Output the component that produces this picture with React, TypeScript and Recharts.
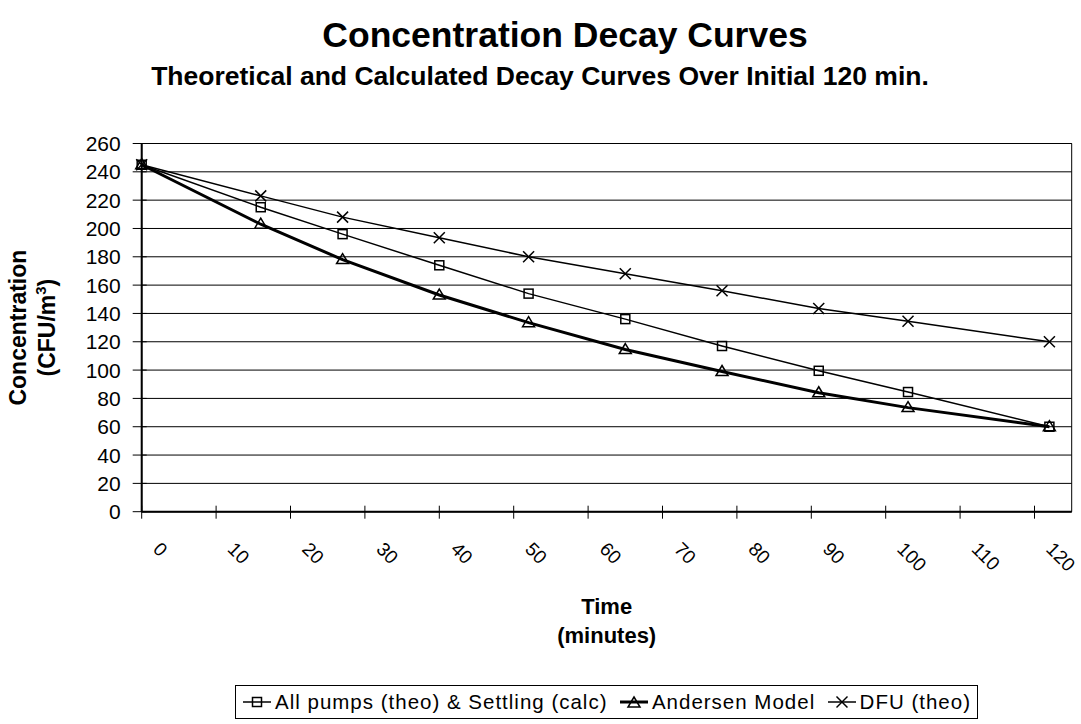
import React from "react";
import {
  LineChart,
  Line,
  XAxis,
  YAxis,
  CartesianGrid,
  Legend,
  Label,
  ReferenceArea,
} from "recharts";

// sample times (minutes) and concentrations
const times = [0, 16, 27, 40, 52, 65, 78, 91, 103, 122];
const allPumps = [245, 215, 196, 174, 154, 136, 117, 99.5, 84.5, 60];
const andersen = [245, 203, 178, 153, 133.5, 114.5, 99, 84, 73.5, 60];
const dfu = [245, 223, 208, 193.5, 180, 168, 156, 143.5, 134.5, 120];

const xTicks = [0, 10, 20, 30, 40, 50, 60, 70, 80, 90, 100, 110, 120];
const yTicks = [0, 20, 40, 60, 80, 100, 120, 140, 160, 180, 200, 220, 240, 260];
const yMinorTicks = Array.from({ length: 66 }, (_, i) => i * 4);

const seriesNames = [
  "All pumps (theo) & Settling (calc)",
  "Andersen Model",
  "DFU (theo)",
];

const data = times.map((t, i) => ({
  time: t,
  pumps: allPumps[i],
  andersen: andersen[i],
  dfu: dfu[i],
}));

const FONT = "'Liberation Sans', Arial, sans-serif";

function SquareMark({ cx, cy }: { cx: number; cy: number }) {
  return (
    <rect
      x={cx - 4.5}
      y={cy - 4.5}
      width={9}
      height={9}
      fill="none"
      stroke="#000"
      strokeWidth={1.5}
    />
  );
}

function TriangleMark({ cx, cy }: { cx: number; cy: number }) {
  return (
    <polygon
      points={`${cx},${cy - 6} ${cx + 6},${cy + 4} ${cx - 6},${cy + 4}`}
      fill="none"
      stroke="#000"
      strokeWidth={1.5}
    />
  );
}

function CrossMark({ cx, cy }: { cx: number; cy: number }) {
  return (
    <g stroke="#000" strokeWidth={1.5}>
      <line x1={cx - 5.5} y1={cy - 5.5} x2={cx + 5.5} y2={cy + 5.5} />
      <line x1={cx - 5.5} y1={cy + 5.5} x2={cx + 5.5} y2={cy - 5.5} />
    </g>
  );
}

const marks = [SquareMark, TriangleMark, CrossMark];
const widths = [1.5, 3, 1.5];

function dotOf(idx: number) {
  const Mark = marks[idx];
  return (props: any) => {
    if (props.cx == null || props.cy == null) return <g key={props.index} />;
    return (
      <g key={props.index}>
        <Mark cx={props.cx} cy={props.cy} />
      </g>
    );
  };
}

function XTick(props: any) {
  const { x, y, payload } = props;
  const px = x + 15;
  const py = y + 34;
  return (
    <g>
      <line x1={x} y1={y - 6} x2={x} y2={y + 7} stroke="#000" strokeWidth={1} />
      <text
        x={px}
        y={py}
        transform={`rotate(45 ${px} ${py})`}
        textAnchor="start"
        dominantBaseline="central"
        fontFamily={FONT}
        fontSize={19}
        fill="#000"
      >
        {payload.value}
      </text>
    </g>
  );
}

function YTick(props: any) {
  const { x, y, payload } = props;
  return (
    <g>
      <line x1={x - 9} y1={y} x2={x + 5} y2={y} stroke="#000" strokeWidth={1} />
      <text
        x={x - 21}
        y={y}
        dy="0.36em"
        textAnchor="end"
        fontFamily={FONT}
        fontSize={21}
        fill="#000"
      >
        {payload.value}
      </text>
    </g>
  );
}

// small inside ticks between the labelled ones
function MinorTick(props: any) {
  const { x, y } = props;
  return <line x1={x} y1={y} x2={x + 6} y2={y} stroke="#000" strokeWidth={1} />;
}

function XTitle(props: any) {
  const { x, y, width } = props.viewBox;
  const cx = x + width / 2;
  return (
    <g fontFamily={FONT} fontWeight="bold" fontSize={22} fill="#000">
      <text x={cx} y={y + 102} textAnchor="middle">
        Time
      </text>
      <text x={cx} y={y + 131} textAnchor="middle">
        (minutes)
      </text>
    </g>
  );
}

function YTitle(props: any) {
  const { y, height } = props.viewBox;
  const cy = y + height / 2;
  return (
    <g fontFamily={FONT} fontWeight="bold" fontSize={23} fill="#000">
      <text x={26.5} y={cy} textAnchor="middle" transform={`rotate(-90 26.5 ${cy})`}>
        Concentration
      </text>
      <text x={55} y={cy} textAnchor="middle" transform={`rotate(-90 55 ${cy})`}>
        (CFU/m
        <tspan fontSize={15} dy={-9}>
          3
        </tspan>
        <tspan dy={9}>)</tspan>
      </text>
    </g>
  );
}

function LegendSample({ idx }: { idx: number }) {
  const Mark = marks[idx];
  return (
    <svg width={30} height={16} style={{ display: "block" }}>
      <line x1={1} y1={8} x2={29} y2={8} stroke="#000" strokeWidth={widths[idx]} />
      <Mark cx={15} cy={idx === 1 ? 9 : 8} />
    </svg>
  );
}

function LegendBox(props: any) {
  const payload = props.payload || [];
  return (
    <div
      style={{
        border: "1.5px solid #000",
        boxSizing: "border-box",
        height: 34,
        padding: "0 6px",
        display: "flex",
        alignItems: "center",
        justifyContent: "space-between",
        fontFamily: FONT,
        fontSize: 20.5,
        letterSpacing: 1,
        color: "#000",
        background: "#fff",
        whiteSpace: "nowrap",
      }}
    >
      {payload.map((entry: any, i: number) => (
        <div key={i} style={{ display: "flex", alignItems: "center", gap: 3 }}>
          <LegendSample idx={seriesNames.indexOf(entry.value)} />
          <span>{entry.value}</span>
        </div>
      ))}
    </div>
  );
}

export default function App() {
  return (
    <div style={{ position: "absolute", left: 0, top: 0, width: 1081, height: 724, background: "#fff" }}>
      <LineChart
        width={1081}
        height={724}
        data={data}
        margin={{ top: 143.5, right: 9.3, bottom: 112.3, left: 61.7 }}
      >
        <CartesianGrid vertical={false} stroke="#000" strokeWidth={1} />
        <ReferenceArea x1={0} x2={125} y1={0} y2={260} fill="none" stroke="#000" strokeWidth={1} />
        <XAxis
          dataKey="time"
          type="number"
          domain={[0, 125]}
          ticks={xTicks}
          interval={0}
          height={100}
          tickLine={false}
          tickSize={0}
          tickMargin={0}
          tick={<XTick />}
          axisLine={{ stroke: "#000", strokeWidth: 2 }}
        >
          <Label content={<XTitle />} />
        </XAxis>
        <YAxis
          domain={[0, 260]}
          ticks={yTicks}
          interval={0}
          width={80}
          tickLine={false}
          tickSize={0}
          tickMargin={0}
          tick={<YTick />}
          axisLine={{ stroke: "#000", strokeWidth: 2 }}
        >
          <Label content={<YTitle />} />
        </YAxis>
        <YAxis
          yAxisId="minor"
          mirror
          domain={[0, 260]}
          ticks={yMinorTicks}
          interval={0}
          axisLine={false}
          tickLine={false}
          tickSize={0}
          tickMargin={0}
          tick={<MinorTick />}
        />
        <Legend
          verticalAlign="middle"
          wrapperStyle={{ left: 235, top: 685, width: 743 }}
          content={<LegendBox />}
        />
        <Line
          type="linear"
          dataKey="pumps"
          name={seriesNames[0]}
          stroke="#000"
          strokeWidth={widths[0]}
          dot={dotOf(0)}
          activeDot={false}
          isAnimationActive={false}
        />
        <Line
          type="linear"
          dataKey="andersen"
          name={seriesNames[1]}
          stroke="#000"
          strokeWidth={widths[1]}
          dot={dotOf(1)}
          activeDot={false}
          isAnimationActive={false}
        />
        <Line
          type="linear"
          dataKey="dfu"
          name={seriesNames[2]}
          stroke="#000"
          strokeWidth={widths[2]}
          dot={dotOf(2)}
          activeDot={false}
          isAnimationActive={false}
        />
      </LineChart>
      <svg
        width={1081}
        height={724}
        style={{ position: "absolute", left: 0, top: 0, pointerEvents: "none" }}
      >
        <text
          x={565}
          y={47}
          textAnchor="middle"
          fontFamily={FONT}
          fontWeight="bold"
          fontSize={35.5}
          fill="#000"
        >
          Concentration Decay Curves
        </text>
        <text
          x={540}
          y={84.5}
          textAnchor="middle"
          fontFamily={FONT}
          fontWeight="bold"
          fontSize={26.5}
          fill="#000"
        >
          Theoretical and Calculated Decay Curves Over Initial 120 min.
        </text>
      </svg>
    </div>
  );
}
